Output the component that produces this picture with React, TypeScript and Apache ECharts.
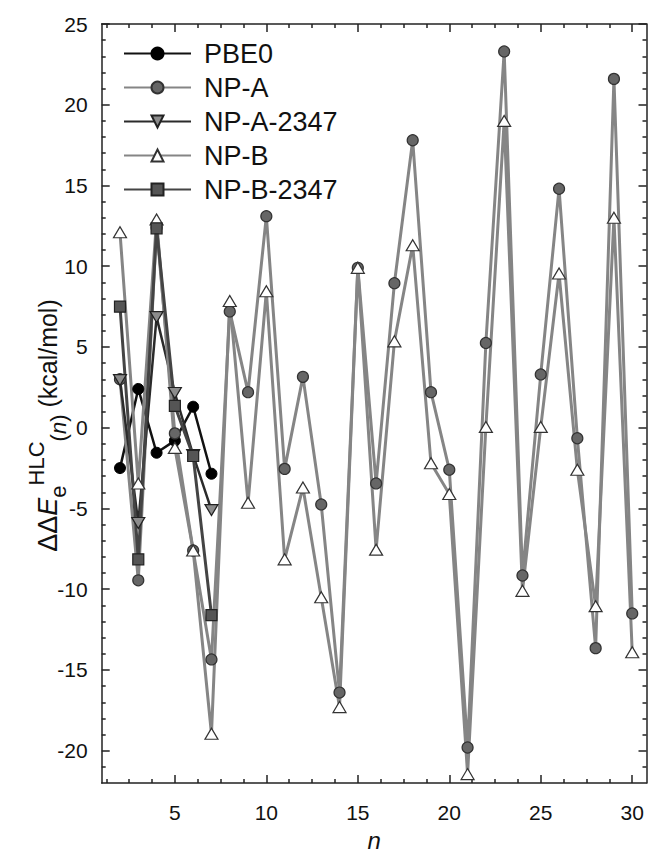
import React, { useEffect, useRef } from "react";
import * as echarts from "echarts";

// ---- data ----
const nAll = [2, 3, 4, 5, 6, 7, 8, 9, 10, 11, 12, 13, 14, 15, 16, 17, 18, 19, 20, 21, 22, 23, 24, 25, 26, 27, 28, 29, 30];
const nShort = [2, 3, 4, 5, 6, 7];

const pbe0 = [-2.5, 2.4, -1.55, -0.8, 1.3, -2.85];
const npA = [3.0, -9.45, 12.4, -0.35, -7.6, -14.35, 7.2, 2.2, 13.1, -2.55, 3.15, -4.75, -16.4, 9.9, -3.45, 8.95, 17.8, 2.2, -2.6, -19.8, 5.25, 23.3, -9.15, 3.3, 14.8, -0.65, -13.65, 21.6, -11.5];
const npA2347 = [2.95, -5.9, 6.85, 2.15, -1.7, -5.1];
const npB = [12.1, -3.45, 12.9, -1.25, -7.6, -18.95, 7.85, -4.65, 8.45, -8.15, -3.7, -10.5, -17.3, 9.9, -7.55, 5.35, 11.3, -2.2, -4.1, -21.45, 0.05, 19.0, -10.1, 0.05, 9.55, -2.6, -11.05, 13.0, -13.9];
const npB2347 = [7.5, -8.15, 12.35, 1.35, -1.75, -11.6];

const seriesNames = ["PBE0", "NP-A", "NP-A-2347", "NP-B", "NP-B-2347"];

// ---- ticks ----
const xMajorTicks = [5, 10, 15, 20, 25, 30];
const xMinorTicks = [1.25, 2.5, 3.75, 6.25, 7.5, 8.75, 11.25, 12.5, 13.75, 16.25, 17.5, 18.75, 21.25, 22.5, 23.75, 26.25, 27.5, 28.75];
const yMajorTicks = [-20, -15, -10, -5, 0, 5, 10, 15, 20, 25];
const yMinorTicks = [-21, -19, -18, -17, -16, -14, -13, -12, -11, -9, -8, -7, -6, -4, -3, -2, -1, 1, 2, 3, 4, 6, 7, 8, 9, 11, 12, 13, 14, 16, 17, 18, 19, 21, 22, 23, 24];

const X_MIN = 1;
const X_MAX = 30.78;
const Y_MIN = -22;
const Y_MAX = 25;

const FONT = "'Liberation Sans', Arial, Helvetica, sans-serif";
const AXIS_COLOR = "#222";

const pairs = (xs: number[], ys: number[]) => xs.map((x, i) => [x, ys[i]]);

function makeAxis(
  dim: "x" | "y",
  position: string,
  ticks: number[],
  len: number,
  showLine: boolean,
  label: boolean
): any {
  const ax: any = {
    type: "value",
    position,
    min: dim === "x" ? X_MIN : Y_MIN,
    max: dim === "x" ? X_MAX : Y_MAX,
    axisLine: { show: showLine, onZero: false, lineStyle: { color: AXIS_COLOR, width: 1.5 } },
    axisTick: {
      show: true,
      inside: true,
      length: len,
      customValues: ticks,
      lineStyle: { color: AXIS_COLOR, width: 1.5 },
    },
    splitLine: { show: false },
    axisLabel: { show: false },
  };
  if (label) {
    ax.axisLabel = {
      show: true,
      customValues: ticks,
      fontSize: 21,
      fontFamily: FONT,
      color: "#111",
      margin: dim === "x" ? 19 : 14,
    };
  }
  return ax;
}

const downTri = "path://M0,0 L12,0 L6,10 Z";

export default function App() {
  const ref = useRef<HTMLDivElement>(null);

  useEffect(() => {
    if (!ref.current) return;
    const chart = echarts.init(ref.current, undefined, { renderer: "svg" });

    const xAxisMain = makeAxis("x", "bottom", xMajorTicks, 8, true, true);
    xAxisMain.name = "n";
    xAxisMain.nameLocation = "middle";
    xAxisMain.nameGap = 45;
    xAxisMain.nameTextStyle = { fontSize: 24, fontStyle: "italic", fontFamily: FONT, color: "#111" };

    const yAxisMain = makeAxis("y", "left", yMajorTicks, 8, true, true);
    yAxisMain.name = "{d|ΔΔ}{i|E}{s|e}{p|HLC}{s|(}{si|n}{s|)}{m| (kcal/mol)}";
    yAxisMain.nameLocation = "middle";
    yAxisMain.nameGap = 32;
    yAxisMain.nameMoveOverlap = false;
    yAxisMain.nameTextStyle = {
      fontFamily: FONT,
      color: "#111",
      padding: [0, 44, 0, 0],
      rich: {
        d: { fontSize: 27, lineHeight: 44, fontFamily: FONT, color: "#111" },
        i: { fontSize: 27, lineHeight: 44, fontStyle: "italic", fontFamily: FONT, color: "#111" },
        s: { fontSize: 22, lineHeight: 30, verticalAlign: "bottom", fontFamily: FONT, color: "#111" },
        si: { fontSize: 22, lineHeight: 30, verticalAlign: "bottom", fontStyle: "italic", fontFamily: FONT, color: "#111" },
        p: { fontSize: 22, lineHeight: 22, verticalAlign: "top", fontFamily: FONT, color: "#111" },
        m: { fontSize: 25, lineHeight: 44, fontFamily: FONT, color: "#111" },
      },
    };

    const option: any = {
      animation: false,
      backgroundColor: "#fff",
      grid: { left: 101.7, right: 2.5, top: 24, bottom: 74, outerBoundsMode: "none", containLabel: false },
      legend: {
        orient: "vertical",
        left: 118,
        top: 35,
        itemWidth: 67,
        itemHeight: 15,
        itemGap: 7,
        selectedMode: false,
        data: seriesNames,
        textStyle: { fontSize: 27, lineHeight: 27, color: "#111", fontFamily: FONT, padding: [0, 0, 0, 8] },
      },
      xAxis: [
        xAxisMain,
        makeAxis("x", "bottom", xMinorTicks, 4, false, false),
        makeAxis("x", "top", xMajorTicks, 8, true, false),
        makeAxis("x", "top", xMinorTicks, 4, false, false),
      ],
      yAxis: [
        yAxisMain,
        makeAxis("y", "left", yMinorTicks, 4, false, false),
        makeAxis("y", "right", yMajorTicks, 8, true, false),
        makeAxis("y", "right", yMinorTicks, 4, false, false),
      ],
      series: [
        {
          name: "PBE0",
          type: "line",
          data: pairs(nShort, pbe0),
          symbol: "circle",
          symbolSize: 11,
          lineStyle: { color: "#111", width: 2.5 },
          itemStyle: { color: "#000", borderColor: "#000", borderWidth: 1 },
        },
        {
          name: "NP-A",
          type: "line",
          data: pairs(nAll, npA),
          symbol: "circle",
          symbolSize: 11,
          lineStyle: { color: "#858585", width: 3 },
          itemStyle: { color: "#666", borderColor: "#333", borderWidth: 1.2 },
        },
        {
          name: "NP-A-2347",
          type: "line",
          data: pairs(nShort, npA2347),
          symbol: downTri,
          symbolSize: [13, 11],
          lineStyle: { color: "#2b2b2b", width: 2.5 },
          itemStyle: { color: "#8c8c8c", borderColor: "#222", borderWidth: 1.2 },
        },
        {
          name: "NP-B",
          type: "line",
          data: pairs(nAll, npB),
          symbol: "triangle",
          symbolSize: [13, 11],
          lineStyle: { color: "#858585", width: 3 },
          itemStyle: { color: "#fff", borderColor: "#333", borderWidth: 1.2 },
        },
        {
          name: "NP-B-2347",
          type: "line",
          data: pairs(nShort, npB2347),
          symbol: "rect",
          symbolSize: 11,
          lineStyle: { color: "#444", width: 3 },
          itemStyle: { color: "#555", borderColor: "#222", borderWidth: 1.2 },
        },
      ].map((s) => ({ ...s, xAxisIndex: 0, yAxisIndex: 0, showAllSymbol: true, emphasis: { disabled: true } })),
    };

    chart.setOption(option);
    return () => chart.dispose();
  }, []);

  return (
    <div
      ref={ref}
      style={{ position: "fixed", left: 0, top: 0, width: 649, height: 857, background: "#fff" }}
    />
  );
}
